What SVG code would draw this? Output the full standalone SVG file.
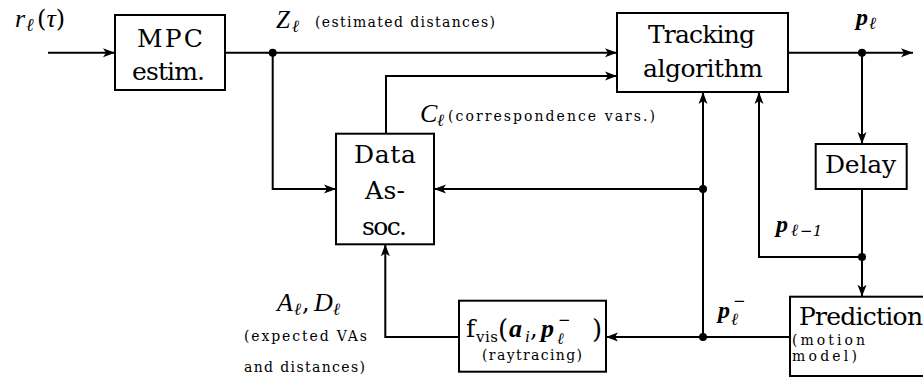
<svg xmlns="http://www.w3.org/2000/svg" width="923" height="383" viewBox="0 0 923 383">
<style>
.box{fill:#fff;stroke:#000;stroke-width:2}
.ln{fill:none;stroke:#000;stroke-width:2}
.big{font-family:"DejaVu Serif","Liberation Serif",serif;font-size:25px;fill:#000}
.sm{font-family:"DejaVu Serif","Liberation Serif",serif;font-size:14px;fill:#000}
.mi{font-family:"Liberation Serif","DejaVu Serif",serif;font-style:italic;fill:#000}
.bi{font-family:"Liberation Serif","DejaVu Serif",serif;font-style:italic;font-weight:bold;fill:#000}
.rm{font-family:"DejaVu Serif","Liberation Serif",serif;fill:#000}
.dot{fill:#000}
</style>
<defs>
<marker id="ar" viewBox="0 -5 12 10" refX="12" refY="0" markerWidth="12" markerHeight="10" markerUnits="userSpaceOnUse" orient="auto">
<path d="M0,-4.5 L12,0 L0,4.5 L3,0 Z" fill="#000"/>
</marker>
</defs>
<rect width="923" height="383" fill="#fff"/>

<g id="connectors">
<path class="ln" d="M48,52.7 H115" marker-end="url(#ar)"/>
<path class="ln" d="M225,52.7 H617" marker-end="url(#ar)"/>
<path class="ln" d="M272.7,52.7 V189 H336" marker-end="url(#ar)"/>
<path class="ln" d="M386,133.7 V76 H617" marker-end="url(#ar)"/>
<path class="ln" d="M788,52.7 H913" marker-end="url(#ar)"/>
<path class="ln" d="M862,52.7 V144" marker-end="url(#ar)"/>
<path class="ln" d="M862,189 V257 H759 V92" marker-end="url(#ar)"/>
<path class="ln" d="M862,257 V296.7" marker-end="url(#ar)"/>
<path class="ln" d="M790,337 H606" marker-end="url(#ar)"/>
<path class="ln" d="M703,337 V92" marker-end="url(#ar)"/>
<path class="ln" d="M703,189 H434" marker-end="url(#ar)"/>
<path class="ln" d="M459,337 H385.3 V244.3" marker-end="url(#ar)"/>
<circle class="dot" cx="272.7" cy="52.7" r="4"/>
<circle class="dot" cx="862" cy="52.7" r="4"/>
<circle class="dot" cx="862" cy="257" r="4"/>
<circle class="dot" cx="703" cy="189" r="4"/>
<circle class="dot" cx="703" cy="337" r="4"/>
</g>

<g id="mpc">
<rect class="box" x="115" y="15" width="110" height="75"/>
<text class="big" x="137" y="47" textLength="66">MPC</text>
<text class="big" x="132" y="80" textLength="73">estim.</text>
</g>

<g id="tracking">
<rect class="box" x="617" y="13" width="171" height="79"/>
<text class="big" x="648" y="43" textLength="107">Tracking</text>
<text class="big" x="643" y="77" textLength="120">algorithm</text>
</g>

<g id="dataassoc">
<rect class="box" x="336" y="133.7" width="98" height="110.6"/>
<text class="big" x="354" y="163" textLength="62">Data</text>
<text class="big" x="365" y="199" textLength="40">As-</text>
<text class="big" x="362" y="235" textLength="45">soc.</text>
</g>

<g id="delay">
<rect class="box" x="815.7" y="144" width="91" height="45"/>
<text class="big" x="825" y="173" textLength="71">Delay</text>
</g>

<g id="prediction">
<rect class="box" x="790" y="296.7" width="150" height="79.3"/>
<text class="big" x="799" y="325" textLength="124">Prediction</text>
<text class="sm" x="792" y="345" textLength="73">(motion</text>
<text class="sm" x="792" y="361" textLength="65">model)</text>
</g>

<g id="fvis">
<rect class="box" x="459" y="300.7" width="147" height="71"/>
<text class="rm" font-size="25" x="466" y="337">f</text>
<text class="rm" font-size="15" x="476" y="342" textLength="22">vis</text>
<text class="rm" font-size="26" x="498" y="338">(</text>
<text class="bi" font-size="26" x="509" y="337">a</text>
<text class="mi" font-size="17" x="525" y="342">i</text>
<text class="rm" font-size="24" x="530" y="337">,</text>
<text class="bi" font-size="26" x="541" y="337">p</text>
<text class="mi" font-size="16" x="557" y="344">ℓ</text>
<text class="rm" font-size="15" x="558" y="325">−</text>
<text class="rm" font-size="26" x="592" y="338">)</text>
<text class="sm" x="482" y="360" textLength="100">(raytracing)</text>
</g>

<g id="labels">
<text class="mi" font-size="26" x="15" y="27">r</text>
<text class="mi" font-size="18" x="26" y="31">ℓ</text>
<text class="rm" font-size="24" x="37" y="27">(<tspan class="mi" font-size="26">τ</tspan>)</text>

<text class="mi" font-size="25" x="276" y="28">Z</text>
<text class="mi" font-size="17" x="292" y="32">ℓ</text>
<text class="sm" x="315" y="27" textLength="180">(estimated distances)</text>

<text class="mi" font-size="26" x="420" y="122">C</text>
<text class="mi" font-size="17" x="437" y="126">ℓ</text>
<text class="sm" x="448" y="121" textLength="207">(correspondence vars.)</text>

<text class="bi" font-size="24" x="856" y="25">p</text>
<text class="mi" font-size="17" x="869" y="29">ℓ</text>

<text class="bi" font-size="24" x="776" y="232">p</text>
<text class="mi" font-size="17" x="791" y="236">ℓ<tspan class="rm" font-size="15" dx="2">−1</tspan></text>

<text class="bi" font-size="24" x="718" y="318">p</text>
<text class="mi" font-size="17" x="731" y="325">ℓ</text>
<text class="rm" font-size="15" x="733" y="306">−</text>

<text class="mi" font-size="26" x="277" y="311">A</text>
<text class="mi" font-size="17" x="294" y="315">ℓ</text>
<text class="rm" font-size="24" x="302" y="311">,</text>
<text class="mi" font-size="26" x="314" y="311">D</text>
<text class="mi" font-size="17" x="333" y="315">ℓ</text>
<text class="sm" x="244" y="341" textLength="123">(expected VAs</text>
<text class="sm" x="244" y="372" textLength="121">and distances)</text>
</g>
</svg>
